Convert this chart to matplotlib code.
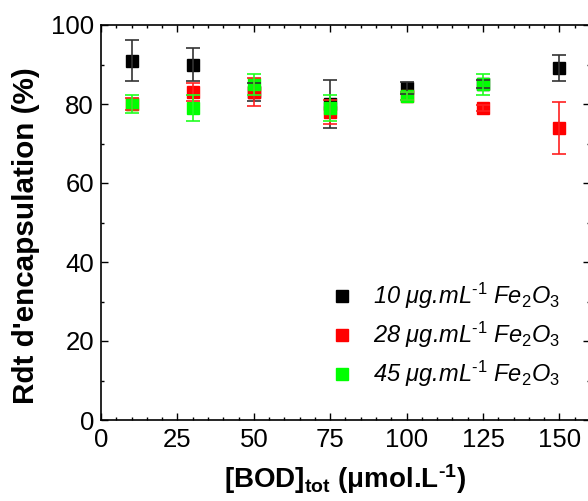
import matplotlib
matplotlib.use("Agg")
import matplotlib.pyplot as plt
from matplotlib.ticker import MultipleLocator

plt.rcParams['font.family'] = ['Liberation Sans', 'DejaVu Sans']
plt.rcParams['mathtext.fontset'] = 'custom'
plt.rcParams['mathtext.rm'] = 'Liberation Sans'
plt.rcParams['mathtext.it'] = 'Liberation Sans:italic'
plt.rcParams['mathtext.bf'] = 'Liberation Sans:bold'

# Data
bod = [10, 30, 50, 75, 100, 125, 150]
fe10 = [91, 90, 83, 80, 84, 85, 89]
fe10_err = [5.3, 4.2, 2.2, 6.0, 1.5, 1.0, 3.3]
fe28 = [80, 83, 83, 78, 82, 79, 74]
fe28_err = [1.5, 2.3, 3.5, 3.0, 1.0, 0.8, 6.6]
# 45 µg/mL series has no point at 150
fe45_x = [10, 30, 50, 75, 100, 125]
fe45 = [80, 79, 85, 79, 82, 85]
fe45_err = [2.2, 3.2, 2.6, 3.2, 1.0, 2.6]

labels = ['10 $\\mathit{\\mu}$g.mL$^{\\mathit{\u20101}}$ Fe$_{\\mathit{2}}$O$_{\\mathit{3}}$',
          '28 $\\mathit{\\mu}$g.mL$^{\\mathit{\u20101}}$ Fe$_{\\mathit{2}}$O$_{\\mathit{3}}$',
          '45 $\\mathit{\\mu}$g.mL$^{\\mathit{\u20101}}$ Fe$_{\\mathit{2}}$O$_{\\mathit{3}}$']

W, H = 588, 501
fig = plt.figure(figsize=(W / 100, H / 100), dpi=100)
ax = fig.add_axes([101 / W, (H - 420) / H, (590 - 101) / W, (420 - 25) / H])

series = [(bod, fe10, fe10_err, 'black', '#333333'),
          (bod, fe28, fe28_err, '#ff0000', '#ff2020'),
          (fe45_x, fe45, fe45_err, '#00ff00', '#20ff20')]

for i, (x, y, e, c, ec) in enumerate(series):
    ax.plot(x, y, 's', color=c, ms=8, zorder=2 + i * 0.1, label=labels[i], mec=c)
for x, y, e, c, ec in series:
    ax.errorbar(x, y, yerr=e, fmt='none', ecolor=ec, elinewidth=1.2,
                capsize=5, capthick=1.2, zorder=3)

ax.set_xlim(0, 160)
ax.set_ylim(0, 100)
ax.xaxis.set_major_locator(MultipleLocator(25))
ax.xaxis.set_minor_locator(MultipleLocator(5))
ax.yaxis.set_major_locator(MultipleLocator(20))
ax.yaxis.set_minor_locator(MultipleLocator(10))
ax.tick_params(which='both', direction='in', top=True, right=True,
               labelsize=18.5, width=1.0)
ax.tick_params(axis='x', pad=6)
ax.tick_params(axis='y', pad=5)
ax.tick_params(which='major', length=5)
ax.tick_params(which='minor', length=2.5)
for s in ax.spines.values():
    s.set_linewidth(1.2)

ax.set_xlabel('[BOD]$_{\\mathbf{tot}}$ ($\\mathbf{\\mu}$mol.L$^{\\mathbf{\u20101}}$)',
              fontsize=20, fontweight='bold', labelpad=7)
ax.set_ylabel("Rdt d'encapsulation (%)", fontsize=21.3, fontweight='bold', labelpad=8)
ax.yaxis.label.set_y(0.468)

leg = ax.legend(loc='lower right', bbox_to_anchor=(0.982, 0.024), frameon=False,
                prop={'size': 17, 'style': 'italic'}, handlelength=1.0,
                handletextpad=0.8, labelspacing=0.37, markerscale=1.0)

fig.savefig('out.png', dpi=100)
